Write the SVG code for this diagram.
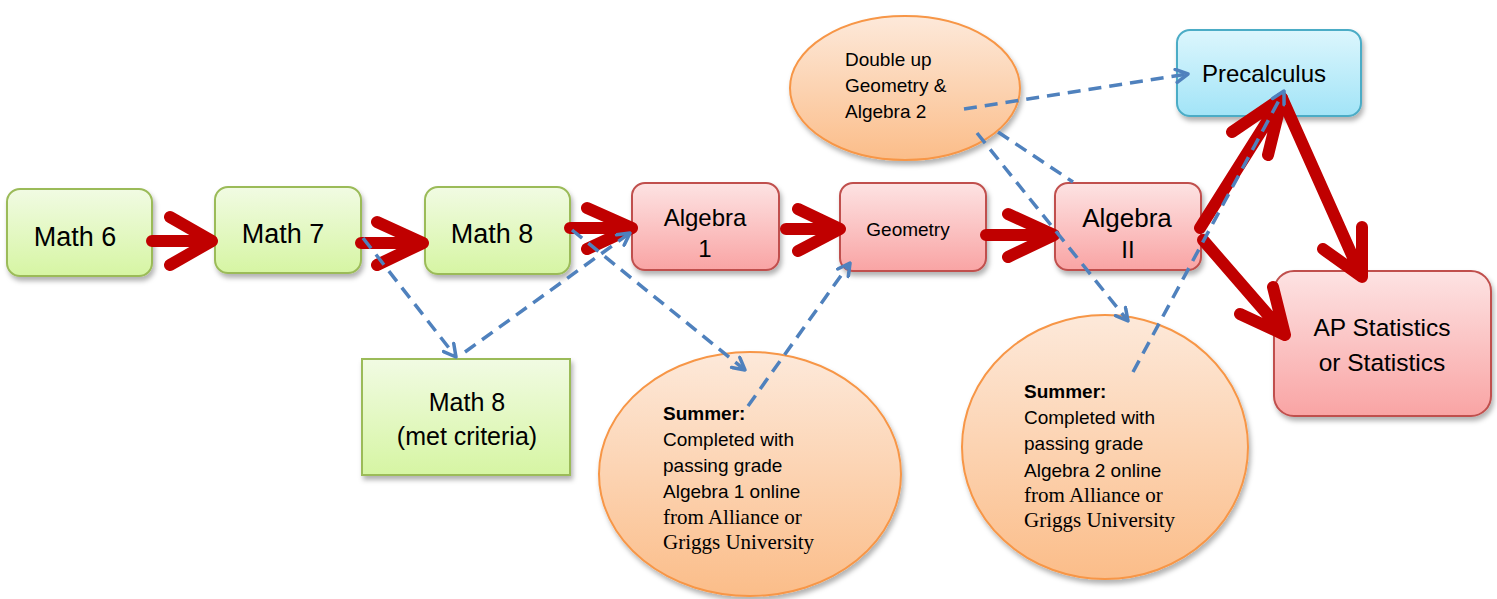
<svg xmlns="http://www.w3.org/2000/svg" width="1497" height="599" viewBox="0 0 1497 599">
<defs>
<linearGradient id="gGreen" x1="0" y1="0" x2="0" y2="1"><stop offset="0" stop-color="#f1fbe3"/><stop offset="1" stop-color="#d6f5a3"/></linearGradient>
<linearGradient id="gPink" x1="0" y1="0" x2="0" y2="1"><stop offset="0" stop-color="#fde3e3"/><stop offset="1" stop-color="#f9a4a4"/></linearGradient>
<linearGradient id="gBlue" x1="0" y1="0" x2="0" y2="1"><stop offset="0" stop-color="#dcf6fd"/><stop offset="1" stop-color="#a2e4f7"/></linearGradient>
<linearGradient id="gOrange" x1="0" y1="0" x2="0" y2="1"><stop offset="0" stop-color="#fde9da"/><stop offset="1" stop-color="#fbbd89"/></linearGradient>
<filter id="shadow" x="-10%" y="-10%" width="125%" height="130%">
<feDropShadow dx="2" dy="4" stdDeviation="2.5" flood-color="#000" flood-opacity="0.3"/>
</filter>
<marker id="vHead" viewBox="0 0 16 16" refX="14" refY="8" markerWidth="16" markerHeight="16" markerUnits="userSpaceOnUse" orient="auto">
<path d="M2,1.5 L14,8 L2,14.5" fill="none" stroke="#4f81bd" stroke-width="3.5" stroke-linecap="round" stroke-linejoin="round"/>
</marker>
</defs>
<style>
.green{fill:url(#gGreen);stroke:#9bbb59;stroke-width:2;filter:url(#shadow)}
.pink{fill:url(#gPink);stroke:#c0504d;stroke-width:2;filter:url(#shadow)}
.blue{fill:url(#gBlue);stroke:#4bacc6;stroke-width:2;filter:url(#shadow)}
.orange{fill:url(#gOrange);stroke:#f79646;stroke-width:2;filter:url(#shadow)}
.t{font-family:"Liberation Sans",Arial,sans-serif;fill:#000;text-anchor:middle}
.l{font-family:"Liberation Sans",Arial,sans-serif;fill:#000;font-size:19px}
.s{font-family:"Liberation Serif","Times New Roman",serif;fill:#000;font-size:21px}
.b{font-weight:bold}
.red{fill:none;stroke:#c00000;stroke-width:12;stroke-linecap:round;stroke-linejoin:round}
.dash{fill:none;stroke:#4f81bd;stroke-width:3.5;stroke-dasharray:13 8}
</style>

<g id="math6">
<rect class="green" x="7" y="189" width="145" height="87" rx="13"/>
<text class="t" x="75" y="246" font-size="27">Math 6</text>
</g>
<g id="math7">
<rect class="green" x="215" y="187" width="146" height="86" rx="13"/>
<text class="t" x="283" y="243" font-size="27">Math 7</text>
</g>
<g id="math8">
<rect class="green" x="425" y="187" width="145" height="87" rx="13"/>
<text class="t" x="492" y="243" font-size="27">Math 8</text>
</g>
<g id="math8met">
<rect class="green" x="362" y="359" width="208" height="116"/>
<text class="t" x="467" y="411" font-size="25">Math 8</text>
<text class="t" x="467" y="445" font-size="25">(met criteria)</text>
</g>
<g id="algebra1">
<rect class="pink" x="632" y="183" width="147" height="87" rx="13"/>
<text class="t" x="705" y="226" font-size="24">Algebra</text>
<text class="t" x="705" y="257" font-size="24">1</text>
</g>
<g id="geometry">
<rect class="pink" x="840" y="183" width="146" height="88" rx="13"/>
<text class="t" x="908" y="236" font-size="19">Geometry</text>
</g>
<g id="algebra2">
<rect class="pink" x="1055" y="183" width="146" height="87" rx="13"/>
<text class="t" x="1127" y="227" font-size="26">Algebra</text>
<text class="t" x="1128" y="258" font-size="24">II</text>
</g>
<g id="precalculus">
<rect class="blue" x="1177" y="30" width="184" height="86" rx="13"/>
<text class="t" x="1264" y="82" font-size="24">Precalculus</text>
</g>
<g id="apstats">
<rect class="pink" x="1274" y="271" width="217" height="145" rx="20"/>
<text class="t" x="1382" y="336" font-size="24.5">AP Statistics</text>
<text class="t" x="1382" y="371" font-size="24.5">or Statistics</text>
</g>
<g id="doubleup">
<ellipse class="orange" cx="905" cy="88" rx="115" ry="72"/>
<text class="l" x="845" y="66" font-size="19.5">Double up</text>
<text class="l" x="845" y="92" font-size="19.5">Geometry &amp;</text>
<text class="l" x="845" y="118" font-size="19.5">Algebra 2</text>
</g>
<g id="summer1">
<ellipse class="orange" cx="750" cy="474" rx="151" ry="122"/>
<text class="l b" x="663" y="420">Summer:</text>
<text class="l" x="663" y="446">Completed with</text>
<text class="l" x="663" y="472">passing grade</text>
<text class="l" x="663" y="498">Algebra 1 online</text>
<text class="s" x="663" y="524">from Alliance or</text>
<text class="s" x="663" y="549">Griggs University</text>
</g>
<g id="summer2">
<ellipse class="orange" cx="1105" cy="447" rx="143" ry="132"/>
<text class="l b" x="1024" y="398">Summer:</text>
<text class="l" x="1024" y="424">Completed with</text>
<text class="l" x="1024" y="450">passing grade</text>
<text class="l" x="1024" y="477">Algebra 2 online</text>
<text class="s" x="1024" y="502">from Alliance or</text>
<text class="s" x="1024" y="527">Griggs University</text>
</g>

<g id="connectors">
<path class="red" d="M152,241 L208,241 M170,217 L212,241 L170,265"/>
<path class="red" d="M361,243 L419,243 M377,222 L423,243 L377,265"/>
<path class="red" d="M570,228 L628,228 M587,208 L632,228 L587,249"/>
<path class="red" d="M786,229 L836,229 M798,209 L840,229 L798,251"/>
<path class="red" d="M986,235 L1050,235 M1008,214 L1054,235 L1008,257"/>
<path class="red" d="M1200,228 L1280,101 M1232,132 L1282,98 L1268,155"/>
<path class="red" d="M1282,98 L1360,273 M1362,227 L1362,277 L1323,249"/>
<path class="red" d="M1203,240 L1282,331 M1273,287 L1285,335 L1240,314"/>
<path class="dash" d="M363,238 L456,357" marker-end="url(#vHead)"/>
<path class="dash" d="M465,352 L630,233" marker-end="url(#vHead)"/>
<path class="dash" d="M572,230 L745,370" marker-end="url(#vHead)"/>
<path class="dash" d="M748,406 L850,263" marker-end="url(#vHead)"/>
<path class="dash" d="M964,109 L1188,74" marker-end="url(#vHead)"/>
<path class="dash" d="M998,132 L1073,182"/>
<path class="dash" d="M977,133 L1128,321" marker-end="url(#vHead)"/>
<path class="dash" d="M1133,372 L1284,91" marker-end="url(#vHead)"/>
</g>
</svg>
